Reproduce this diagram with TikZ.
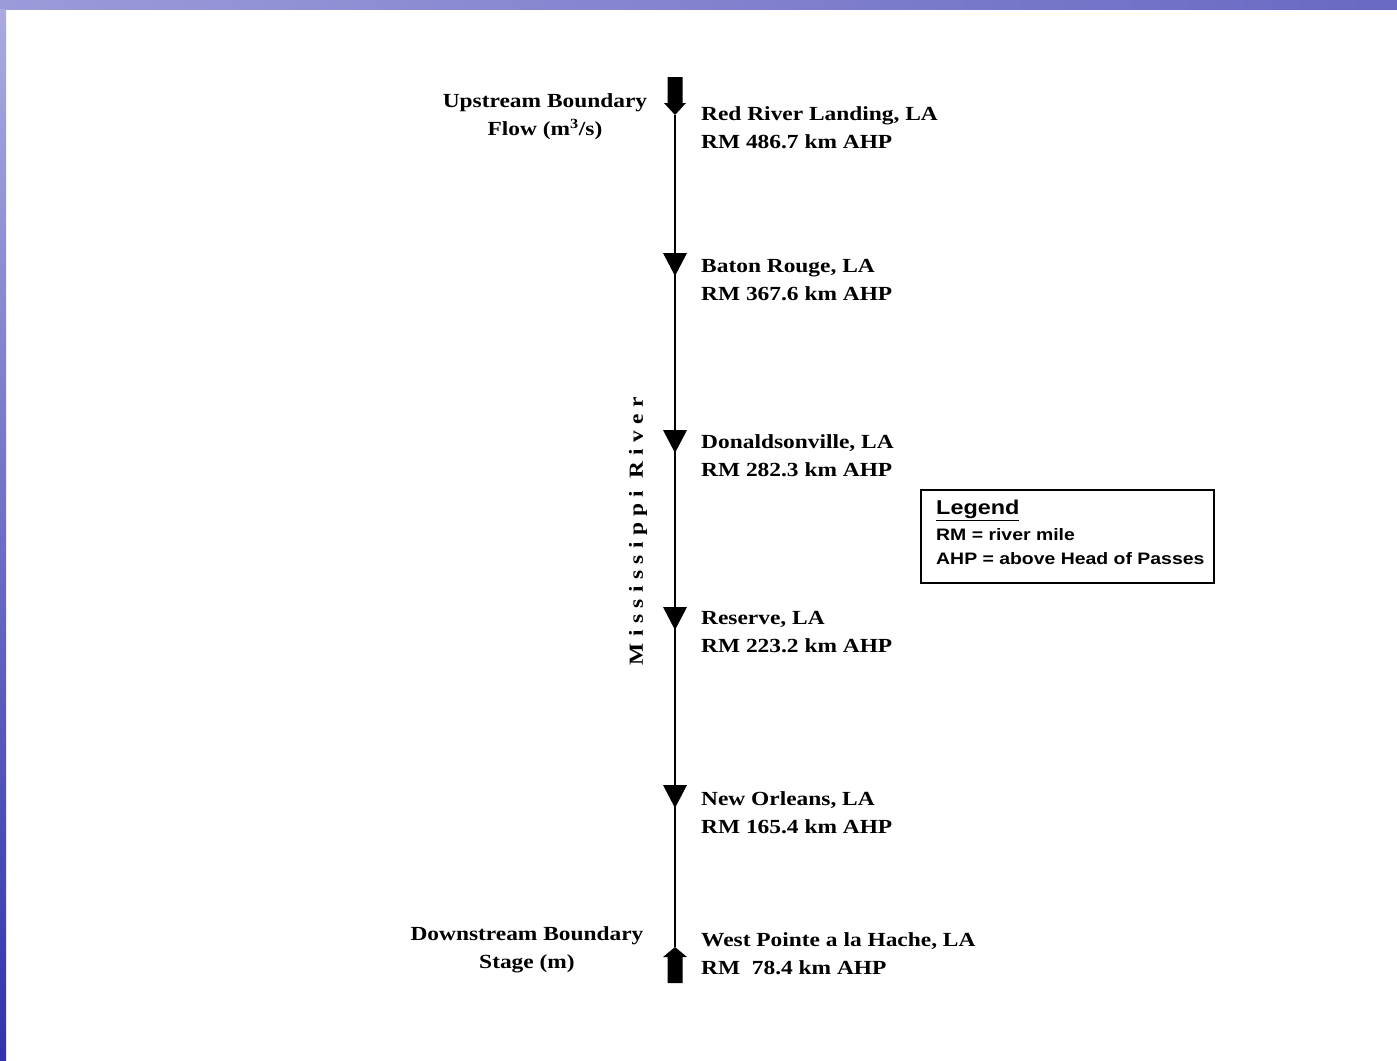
\documentclass[tikz,border=0pt]{standalone}
\usepackage{fontspec}
\setmainfont{Liberation Serif}[FakeStretch=1.17]
\newfontfamily\arialfont{Liberation Sans}[FakeStretch=1.17]
\usetikzlibrary{calc}
\begin{document}
\begin{tikzpicture}[x=1pt,y=1pt,
  stlabel/.style={anchor=west,align=left,inner sep=0pt,font=\fontsize{20}{28}\selectfont\bfseries},
  bdlabel/.style={align=center,inner sep=0pt,font=\fontsize{20}{28}\selectfont\bfseries},
  tri/.style={fill=black},
  blockarrow/.style={fill=black},
  river/.style={line width=1.3pt},
  legendbox/.style={draw,line width=1.1pt,minimum width=293pt,minimum height=93pt,inner sep=0pt},
  legtext/.style={anchor=west,inner sep=0pt,font=\arialfont\bfseries\fontsize{16.6}{18}\selectfont}
]
\useasboundingbox (0,0) rectangle (1397,-1060);
\fill[white] (0,0) rectangle (1397,-1060);
% slide border
\shade[left color={rgb,255:red,155;green,155;blue,218},right color={rgb,255:red,105;green,105;blue,195}] (0,0) rectangle (1397,-9);
\shade[top color={rgb,255:red,170;green,170;blue,225},bottom color={rgb,255:red,50;green,50;blue,172}] (0,-9) rectangle (6,-1060);

% river axis
\coordinate (top) at (675,-115);
\coordinate (bot) at (675,-947);
\draw[river] (top) -- (bot);

% upstream block arrow (down)
\fill[blockarrow] (667.5,-77) -- (682.5,-77) -- (682.5,-103) -- (686,-103) -- (top) -- (664,-103) -- (667.5,-103) -- cycle;
% downstream block arrow (up)
\fill[blockarrow] (bot) -- (687,-957) -- (682.5,-957) -- (682.5,-983) -- (667.5,-983) -- (667.5,-957) -- (663,-957) -- cycle;

% station triangles
\foreach \n/\yy in {br/253,dv/430,rs/607,no/785}{
  \coordinate (\n) at (675,-\yy);
  \fill[tri] (\n) ++(-12,0) -- ++(24,0) -- ++(-12,-23) -- cycle;
}

% station labels
\node[stlabel] (lrrl) at (701,-128) {Red River Landing, LA\\RM 486.7 km AHP};
\node[stlabel] (lbr) at (701,-280) {Baton Rouge, LA\\RM 367.6 km AHP};
\node[stlabel] (ldv) at (701,-456) {Donaldsonville, LA\\RM 282.3 km AHP};
\node[stlabel] (lrs) at (701,-632) {Reserve, LA\\RM 223.2 km AHP};
\node[stlabel] (lno) at (701,-813) {New Orleans, LA\\RM 165.4 km AHP};
\node[stlabel] (lwp) at (701,-954) {West Pointe a la Hache, LA\\RM\ \ 78.4 km AHP};

% boundary labels
\node[bdlabel] (lup) at (545,-117) {Upstream Boundary\\Flow (m\textsuperscript{3}/s)};
\node[bdlabel] (ldown) at (527,-950) {Downstream Boundary\\Stage (m)};

% river name
\node[rotate=90,inner sep=0pt,font=\fontsize{20}{24}\selectfont\bfseries\addfontfeature{LetterSpace=32}] (rname) at (638,-531) {Mississippi River};

% legend
\node[legendbox] (legend) at (1067.5,-536.5) {};
\node[legtext,font=\arialfont\bfseries\fontsize{20}{24}\selectfont] (legtitle) at (936,-510) {\underline{Legend}};
\node[legtext] (leg1) at (936,-535) {RM = river mile};
\node[legtext] (leg2) at (936,-559) {AHP = above Head of Passes};
\end{tikzpicture}
\end{document}
